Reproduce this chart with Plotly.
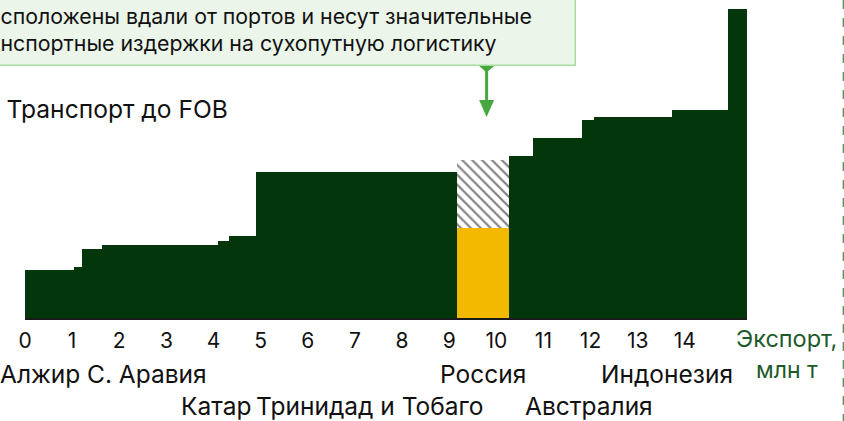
import numpy as np
import plotly.graph_objects as go

# ---- data ----
# export volume (mln t) and cost level of each supplier block, ordered along the curve
widths = [1.04, 0.17, 0.43, 2.46, 0.23, 0.58, 4.25, 1.10, 0.51, 1.04, 0.26, 1.65, 1.19, 0.41]
costs = [1.51, 1.60, 2.17, 2.30, 2.42, 2.58, 4.59, 2.83, 5.09, 5.66, 6.23, 6.32, 6.54, 9.72]
russia_index = 7
russia_transport = 2.14  # transport to FOB on top of Russia's cost

tick_values = list(range(0, 15))

countries = ["Алжир", "С. Аравия", "Катар", "Тринидад и Тобаго", "Россия", "Австралия", "Индонезия"]
country_x = [0.32, 2.59, 4.06, 7.33, 9.71, 11.96, 13.62]
country_row = [1, 1, 2, 2, 1, 2, 1]

# the note is shown cropped at the left edge, as in the reference
note_text = ("сположены вдали от портов и несут значительные<br>"
             "нспортные издержки на сухопутную логистику")

# ---- geometry derived from data ----
w = np.array(widths)
right = np.cumsum(w)
left = right - w
mid = (left + right) / 2
total = right[-1]

DARK = "#03370B"
YELLOW = "#F2B900"
GREEN_ARROW = "#46A83E"
FONT = "Inter"

bar_colors = [YELLOW if i == russia_index else DARK for i in range(len(widths))]

fig = go.Figure()
fig.add_trace(go.Bar(
    x=mid, y=costs, width=w, base=0,
    marker=dict(color=bar_colors, line=dict(width=0)),
    showlegend=False, hoverinfo="skip",
))
fig.add_trace(go.Bar(
    x=[mid[russia_index]], y=[russia_transport], width=[w[russia_index]],
    base=[costs[russia_index]],
    name="Транспорт до FOB",
    marker=dict(color="white", line=dict(width=0),
                pattern=dict(shape="\\", fgcolor="black", bgcolor="white", size=7, solidity=0.3)),
    showlegend=True, hoverinfo="skip",
))

annotations = []
for name, cx, row in zip(countries, country_x, country_row):
    annotations.append(dict(
        x=cx, xref="x", y=-0.176 if row == 1 else -0.277, yref="paper",
        text=name, showarrow=False, xanchor="center", yanchor="middle",
        font=dict(family=FONT, size=24.5, color="#111111"),
    ))
annotations.append(dict(
    x=1.0554, xref="paper", y=-0.064, yref="paper",
    text="Экспорт,", showarrow=False, xanchor="center", yanchor="middle",
    font=dict(family=FONT, size=23.5, color="#1D5A2A"),
))
annotations.append(dict(
    x=1.0554, xref="paper", y=-0.164, yref="paper",
    text="млн т", showarrow=False, xanchor="center", yanchor="middle",
    font=dict(family=FONT, size=23, color="#1D5A2A"),
))
annotations.append(dict(
    x=-0.0464, xref="paper", y=0.7925, yref="paper",
    text=note_text, showarrow=False, xanchor="left", yanchor="bottom", align="left",
    width=566, bgcolor="#EBF5EA", bordercolor="#A6DEA0", borderwidth=1.5, borderpad=8,
    font=dict(family=FONT, size=21.3, color="#111111"),
))

shapes = [
    # dashed frame line at the right
    dict(type="line", xref="paper", yref="paper", x0=1.1335, x1=1.1335, y0=-0.33, y1=1.0,
         line=dict(color="#5E8F62", width=1.5, dash="dash")),
    # arrow stem
    dict(type="line", xref="x", yref="paper", xsizemode="pixel", ysizemode="pixel",
         xanchor=mid[russia_index], yanchor=0.7925, x0=4, x1=4, y0=0, y1=-38,
         line=dict(color=GREEN_ARROW, width=3)),
    # diamond
    dict(type="path", xref="x", yref="paper", xsizemode="pixel", ysizemode="pixel",
         xanchor=mid[russia_index], yanchor=0.7925,
         path="M4,6.5 L11.5,0 L4,-6.5 L-3.5,0 Z", fillcolor=GREEN_ARROW, line=dict(width=0)),
    # arrowhead
    dict(type="path", xref="x", yref="paper", xsizemode="pixel", ysizemode="pixel",
         xanchor=mid[russia_index], yanchor=0.7925,
         path="M-3.5,-34 L11.5,-34 L4,-51 Z", fillcolor=GREEN_ARROW, line=dict(width=0)),
]

fig.update_layout(
    width=844, height=421,
    margin=dict(l=25, r=97, t=0, b=103, autoexpand=False),
    paper_bgcolor="white", plot_bgcolor="white",
    barmode="overlay", bargap=0,
    font=dict(family=FONT, color="#111111"),
    xaxis=dict(range=[0, total], tickvals=tick_values, showgrid=False, zeroline=False,
               showline=True, linecolor="#1A1A1A", linewidth=2, ticks="",
               ticklabelstandoff=3,
               tickfont=dict(family=FONT, size=21, color="#111111")),
    yaxis=dict(range=[0, 10], visible=False, showgrid=False, zeroline=False),
    legend=dict(x=-0.081, xanchor="left", y=0.66, yanchor="middle",
                bgcolor="rgba(0,0,0,0)", font=dict(family=FONT, size=24.6, color="#111111")),
    annotations=annotations,
    shapes=shapes,
)

fig.write_html("out.html", config={"displayModeBar": False},
               post_script="document.body.style.margin='0px';")
